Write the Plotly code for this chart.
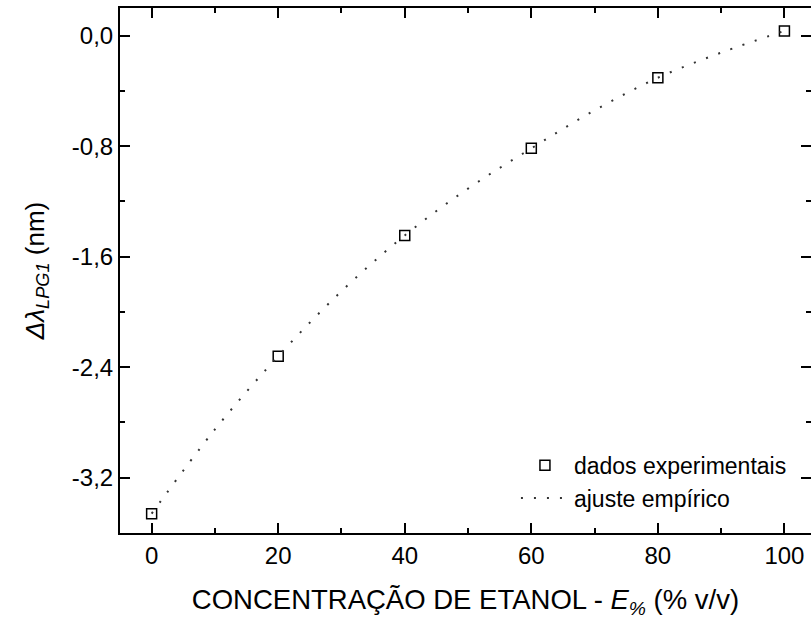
import plotly.graph_objects as go

# Ethanol concentration (% v/v) and measured LPG1 wavelength shift (nm)
conc = [0, 20, 40, 60, 80, 100]
delta = [-3.46, -2.32, -1.446, -0.816, -0.305, 0.034]

# Empirical fit curve sampled along the concentration axis
fit_x = [0, 10, 20, 30, 40, 50, 60, 70, 80, 90, 100]
fit_y = [-3.46, -2.85, -2.32, -1.85, -1.446, -1.107, -0.816, -0.541, -0.305, -0.123, 0.034]

x_ticks = [0, 20, 40, 60, 80, 100]
x_labels = ["0", "20", "40", "60", "80", "100"]
y_ticks = [0.0, -0.8, -1.6, -2.4, -3.2]
y_labels = ["0,0", "-0,8", "-1,6", "-2,4", "-3,2"]

FONT = "Liberation Sans, Arial, sans-serif"

fig = go.Figure()
fig.add_trace(go.Scatter(
    x=conc, y=delta, mode="markers", name="dados experimentais",
    marker=dict(symbol="square-open", size=10, color="black",
                line=dict(width=1.5, color="black")),
))
fig.add_trace(go.Scatter(
    x=fit_x, y=fit_y, mode="lines", name="ajuste empírico",
    line=dict(color="#333333", width=2, dash="2px,11px", shape="spline"),
))
# carrier for the right-hand tick axis
fig.add_trace(go.Scatter(x=[], y=[], yaxis="y2", showlegend=False, hoverinfo="skip"))

axis_common = dict(
    showgrid=False, zeroline=False, showline=True, linecolor="black", linewidth=2,
    ticks="inside", ticklen=10, tickwidth=2, tickcolor="black",
    tickfont=dict(family=FONT, size=24, color="black"),
)

fig.update_layout(
    width=811, height=620,
    margin=dict(l=120, r=0, t=8, b=87),
    paper_bgcolor="white", plot_bgcolor="white",
    font=dict(family=FONT, color="black"),
    showlegend=True,
    legend=dict(
        x=0.573, y=0.17, xanchor="left", yanchor="top",
        bgcolor="rgba(0,0,0,0)", font=dict(family=FONT, size=23, color="black"),
        tracegroupgap=0, itemwidth=48,
    ),
    xaxis=dict(
        **axis_common, range=[-5, 104.2], mirror="ticks",
        tickmode="array", tickvals=x_ticks, ticktext=x_labels,
        minor=dict(ticks="inside", ticklen=5, tickwidth=2, tickcolor="black", dtick=10, tick0=0),
        title=dict(text="CONCENTRAÇÃO DE ETANOL - <i>E</i><sub><i>%</i></sub> (% v/v)",
                   font=dict(family=FONT, size=27.5, color="black"), standoff=22),
    ),
    yaxis=dict(
        **axis_common, range=[-3.6, 0.2], mirror=False,
        tickmode="array", tickvals=y_ticks, ticktext=y_labels,
        minor=dict(ticks="inside", ticklen=5, tickwidth=2, tickcolor="black", dtick=0.4, tick0=0),
        title=dict(text="<i>Δλ</i><sub><i>LPG1</i></sub> (nm)",
                   font=dict(family=FONT, size=26, color="black"), standoff=20),
    ),
    yaxis2=dict(
        overlaying="y", side="right", matches="y", range=[-3.6, 0.2],
        showgrid=False, zeroline=False, showline=False, showticklabels=False,
        ticks="inside", ticklen=10, tickwidth=2, tickcolor="black",
        tickmode="array", tickvals=y_ticks,
        minor=dict(ticks="inside", ticklen=5, tickwidth=2, tickcolor="black", dtick=0.4, tick0=0),
    ),
)

fig.write_html("out.html")
